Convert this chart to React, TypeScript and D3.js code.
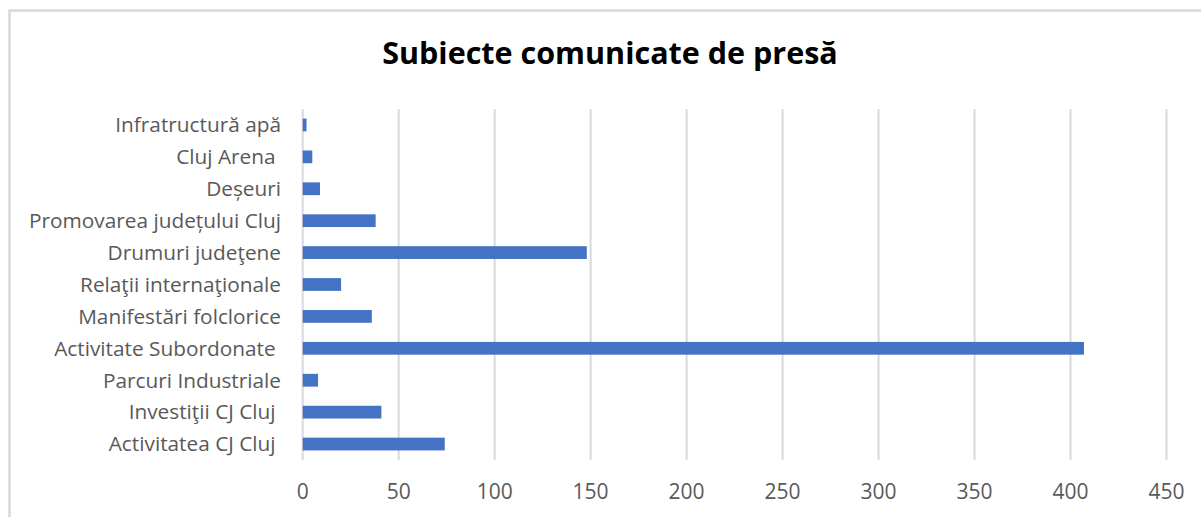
import React from "react";
import * as d3 from "d3";

const categories = [
  "Infratructură apă",
  "Cluj Arena ",
  "Deșeuri",
  "Promovarea județului Cluj",
  "Drumuri judeţene",
  "Relaţii internaţionale",
  "Manifestări folclorice",
  "Activitate Subordonate ",
  "Parcuri Industriale",
  "Investiţii CJ Cluj ",
  "Activitatea CJ Cluj ",
];
const values = [2, 5, 9, 38, 148, 20, 36, 407, 8, 41, 74];
const xTicks = [0, 50, 100, 150, 200, 250, 300, 350, 400, 450];
const title = "Subiecte comunicate de presă";

const W = 1201;
const H = 517;
const FONT = "'Open Sans', sans-serif";

export default function App() {
  const plotLeft = 302.7;
  const plotRight = 1166.5;
  const plotTop = 109;
  const plotBottom = 460;

  const x = d3.scaleLinear().domain([0, 450]).range([plotLeft, plotRight]);
  const y = d3
    .scaleBand<string>()
    .domain(categories)
    .range([plotTop, plotBottom])
    .paddingInner(0.6)
    .paddingOuter(0.3);

  return (
    <svg
      width={W}
      height={H}
      style={{ position: "absolute", left: 0, top: 0, background: "#fff" }}
    >
      <rect x={0} y={0} width={W} height={H} fill="#fff" />
      <rect
        x={9.5}
        y={10.5}
        width={W + 20}
        height={H + 20}
        fill="none"
        stroke="#d9d9d9"
        strokeWidth={2.5}
      />
      <text
        x={610}
        y={64}
        textAnchor="middle"
        fontFamily={FONT}
        fontWeight="bold"
        fontSize={30.5}
        fill="#000"
      >
        {title}
      </text>
      {xTicks.map((t) => (
        <line
          key={"g" + t}
          x1={x(t)}
          x2={x(t)}
          y1={plotTop}
          y2={plotBottom}
          stroke="#d9d9d9"
          strokeWidth={2}
        />
      ))}
      {categories.map((c, i) => (
        <rect
          key={"b" + c}
          x={x(0)}
          y={y(c)}
          width={x(values[i]) - x(0)}
          height={y.bandwidth()}
          fill="#4472c4"
        />
      ))}
      {categories.map((c) => (
        <text
          key={"l" + c}
          x={281}
          y={(y(c) as number) + y.bandwidth() / 2}
          dy="0.35em"
          textAnchor="end"
          fontFamily={FONT}
          fontSize={20.8}
          fill="#595959"
          style={{ whiteSpace: "pre" }}
        >
          {c}
        </text>
      ))}
      {xTicks.map((t) => (
        <text
          key={"t" + t}
          x={x(t)}
          y={492}
          dy="0.35em"
          textAnchor="middle"
          fontFamily={FONT}
          fontSize={21}
          fill="#595959"
        >
          {t}
        </text>
      ))}
    </svg>
  );
}
